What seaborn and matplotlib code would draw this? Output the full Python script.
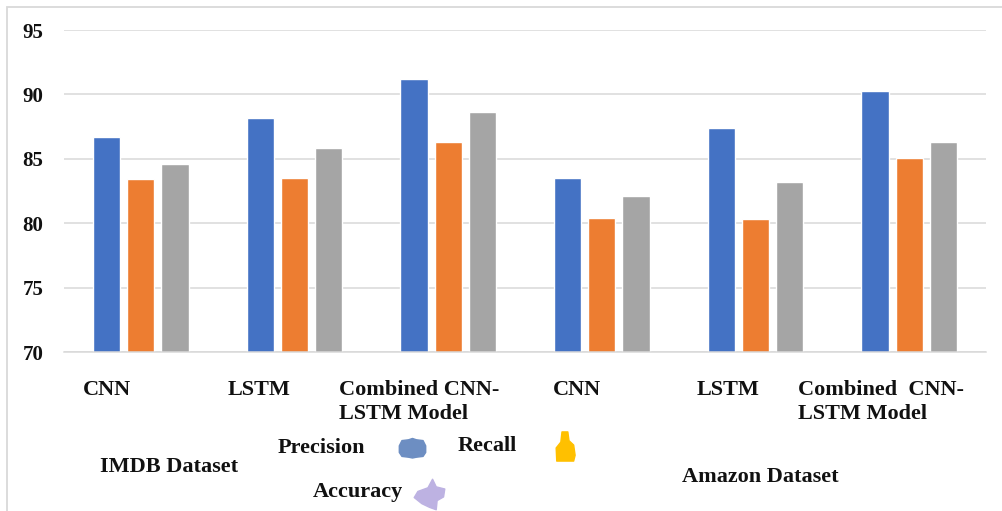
import matplotlib
matplotlib.use("Agg")
import matplotlib.pyplot as plt
from matplotlib.patches import Rectangle
from matplotlib.path import Path
from matplotlib.transforms import blended_transform_factory, ScaledTranslation
import pandas as pd
import seaborn as sns

# ---- data -------------------------------------------------------------
datasets = ["IMDB Dataset", "Amazon Dataset"]
models = ["CNN", "LSTM", "Combined CNN-\nLSTM Model"]
metrics = ["Precision", "Recall", "Accuracy"]
precision = [86.7, 88.2, 91.2, 83.5, 87.4, 90.3]
recall = [83.4, 83.5, 86.3, 80.4, 80.3, 85.1]
accuracy = [84.6, 85.8, 88.6, 82.1, 83.2, 86.3]
y_ticks = [70, 75, 80, 85, 90, 95]

# ---- styling ----------------------------------------------------------
W, H = 1003, 511
bar_colors = ["#4472C4", "#ED7D31", "#A5A5A5"]
marker_colors = ["#6D8EC2", "#FFC000", "#BDB2E2"]
grid_color = "#D9D9D9"
text_color = "#111111"
SERIF = ["Liberation Serif", "DejaVu Serif"]

sns.set_theme(style="white")
plt.rcParams["font.family"] = "serif"
plt.rcParams["font.serif"] = SERIF
plt.rcParams["font.weight"] = "bold"

slots = [f"{d}|{m}" for d in datasets for m in models]
rows = []
for i, slot in enumerate(slots):
    for metric, series in zip(metrics, [precision, recall, accuracy]):
        rows.append({"slot": slot, "metric": metric, "score": series[i]})
df = pd.DataFrame(rows)

fig = plt.figure(figsize=(W / 100, H / 100), dpi=100)
ax = fig.add_axes([64 / W, 1 - 352 / H, 922 / W, 322 / H])

sns.barplot(data=df, x="slot", y="score", hue="metric", order=slots,
            hue_order=metrics, palette=bar_colors, width=0.665, gap=0.2,
            saturation=1, legend=False, ax=ax)

ax.set_xlim(-0.5, len(slots) - 0.5)
ax.set_ylim(y_ticks[0], y_ticks[-1])
ax.set_yticks(y_ticks)
ax.set_yticklabels([str(t) for t in y_ticks], fontsize=15, fontweight="bold",
                   color=text_color, fontfamily="Liberation Serif")
# nudge value labels slightly below their gridlines
shift = ScaledTranslation(0, -2 / 100, fig.dpi_scale_trans)
for lbl in ax.get_yticklabels():
    lbl.set_transform(lbl.get_transform() + shift)
ax.tick_params(axis="y", length=0, pad=15)
ax.yaxis.grid(True, color=grid_color, linewidth=1.1)
ax.set_axisbelow(True)
ax.set_xlabel("")
ax.set_ylabel("")

# category axis: separators between the two datasets
ax.set_xticks([])
ax.set_xticks([-0.5, 2.5], minor=True)
ax.tick_params(axis="x", which="minor", length=7, width=1.1, color=grid_color,
               direction="out")
for side in ["top", "right", "left"]:
    ax.spines[side].set_visible(False)
ax.spines["bottom"].set_color(grid_color)
ax.spines["bottom"].set_linewidth(1.1)

text_kw = dict(fontsize=16, fontweight="bold", color=text_color,
               fontfamily="Liberation Serif")

# model names under each group (left edges, in category units)
label_dx = [-0.376, -0.438, -0.71, -0.321, -0.383, -0.725]
trans = blended_transform_factory(ax.transData, fig.transFigure)
for i, slot in enumerate(slots):
    name = slot.split("|")[1]
    if slot.startswith("Amazon") and name.startswith("Combined"):
        name = name.replace("Combined ", "Combined  ")
    ax.text(i + label_dx[i], 1 - 380 / H, name, transform=trans, ha="left",
            va="top", linespacing=1.25, clip_on=False, **text_kw)


def fpos(x, y):
    return x / W, 1 - y / H


# dataset names
fig.text(*fpos(100, 467), datasets[0], ha="left", va="center", **text_kw)
fig.text(*fpos(682, 477), datasets[1], ha="left", va="center", **text_kw)

# legend entries with blob-shaped markers
blob_precision = Path([(-0.5, 0.1), (-0.4, 0.3), (-0.15, 0.33), (0.0, 0.38),
                       (0.15, 0.33), (0.4, 0.3), (0.5, 0.1), (0.5, -0.15),
                       (0.4, -0.3), (0.15, -0.33), (0.0, -0.36),
                       (-0.15, -0.33), (-0.4, -0.3), (-0.5, -0.15),
                       (-0.5, 0.1)], closed=True)
blob_recall = Path([(-0.12, 0.5), (0.08, 0.5), (0.12, 0.2), (0.28, 0.05),
                    (0.33, -0.3), (0.28, -0.5), (-0.3, -0.5), (-0.32, -0.05),
                    (-0.16, 0.15), (-0.12, 0.5)], closed=True)
blob_accuracy = Path([(0.1, 0.5), (0.22, 0.25), (0.5, 0.18), (0.46, -0.08),
                      (0.25, -0.2), (0.22, -0.5), (0.0, -0.42),
                      (-0.25, -0.3), (-0.5, -0.1), (-0.38, 0.1),
                      (-0.05, 0.22), (0.1, 0.5)], closed=True)

legend_items = [
    (metrics[0], (278, 448), (412, 448), blob_precision, 19),
    (metrics[1], (458, 446), (565, 446), blob_recall, 21),
    (metrics[2], (313, 492), (429, 494), blob_accuracy, 22),
]
for (name, tpos, mpos, shape, size), col in zip(legend_items, marker_colors):
    fig.text(*fpos(*tpos), name, ha="left", va="center", **text_kw)
    mx, my = fpos(*mpos)
    ax.plot([mx], [my], marker=shape, markersize=size, color=col,
            markeredgecolor=col, linestyle="none", transform=fig.transFigure,
            clip_on=False)

# outer chart border
fig.add_artist(Rectangle((7 / W, -0.1), 1.2, 1.1 - 7 / H, fill=False,
                         edgecolor=grid_color, linewidth=1.3,
                         transform=fig.transFigure))

fig.savefig("out.png", dpi=100, facecolor="white")
